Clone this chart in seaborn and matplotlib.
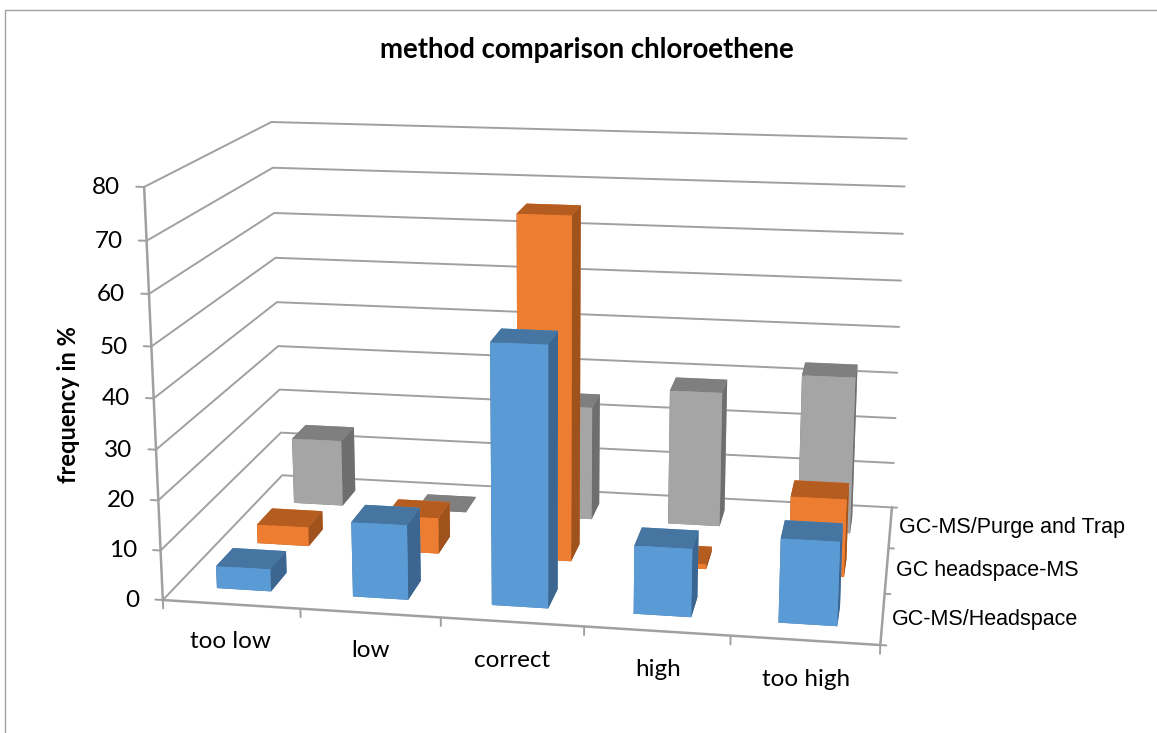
import matplotlib
matplotlib.use("Agg")
import matplotlib.pyplot as plt
from matplotlib.lines import Line2D
from mpl_toolkits.mplot3d import proj3d
import seaborn as sns

# Values
categories = ["too low", "low", "correct", "high", "too high"]
series_names = ["GC-MS/Headspace", "GC headspace-MS", "GC-MS/Purge and Trap"]
headspace = [4.5, 15, 51.5, 13.5, 16.5]
headspace_ms = [4, 7.5, 70.5, 1, 16]
purge_trap = [14.5, 0, 24.5, 29, 33.5]
z_ticks = [0, 10, 20, 30, 40, 50, 60, 70, 80]

sns.set_theme(style="white")
plt.rcParams["font.family"] = ["Lato", "DejaVu Sans"]

GRID = "#A0A0A0"
# front, top and side colours per series
front_colors = sns.color_palette(["#5B9BD5", "#ED7D31", "#A5A5A5"])
top_colors = sns.color_palette(["#4575A0", "#B55D21", "#7F7F7F"])
side_colors = sns.color_palette(["#3C6690", "#A0521D", "#6E6E6E"])

W_PX, H_PX = 1157, 733
S_PX = 1400


def grid_line(ax, xs, ys, zs, lw=1.4, color=GRID):
    ax.plot(xs, ys, zs, color=color, lw=lw, zorder=1, solid_capstyle="round")


def label(ax, x, y, z, text, **kwargs):
    # project first, so the text sits in plain 2D axes coordinates
    x2, y2, _ = proj3d.proj_transform(x, y, z, ax.get_proj())
    ax.text2D(x2, y2, text, transform=ax.transData, va="center", color="black", **kwargs)


def main():
    fig = plt.figure(figsize=(W_PX / 100, H_PX / 100), dpi=100, facecolor="white")
    # big square axes, the box only fills part of it
    x0 = 549 - 0.5135 * S_PX
    y0 = (H_PX - 360.5) - 0.5135 * S_PX
    ax = fig.add_axes([x0 / W_PX, y0 / H_PX, S_PX / W_PX, S_PX / H_PX], projection="3d")
    ax.computed_zorder = False
    ax.set_proj_type("persp", focal_length=0.30)
    ax.view_init(elev=14.5, azim=-80.2)

    n_cat = len(categories)
    n_ser = len(series_names)

    # back wall, left wall
    for z in z_ticks:
        grid_line(ax, [0, 0, n_cat], [0, n_ser, n_ser], [z, z, z])
        grid_line(ax, [0, -0.055], [0, 0], [z, z])
    grid_line(ax, [0, 0], [0, 0], [0, 80], lw=1.8)
    # floor front and right edges
    grid_line(ax, [0, n_cat, n_cat], [0, 0, n_ser], [0, 0, 0], lw=1.8)
    for i in range(n_cat + 1):
        grid_line(ax, [i, i], [0, 0], [0, -1.7])
    for s in range(n_ser + 1):
        grid_line(ax, [n_cat, n_cat + 0.04], [s, s], [0, 0])

    # bars, back row first
    rows = [headspace, headspace_ms, purge_trap]
    for s in range(n_ser - 1, -1, -1):
        for i, val in enumerate(rows[s]):
            faces = [top_colors[s], top_colors[s], front_colors[s],
                     front_colors[s], side_colors[s], side_colors[s]]
            ax.bar3d(i + 0.3, s + 0.3, 0, 0.4, 0.4, val, color=faces, shade=False,
                     linewidth=0, zorder=10 + (n_ser - s) * 10 + i)

    ax.set_xlim(0, n_cat, view_margin=0)
    ax.set_ylim(0, n_ser, view_margin=0)
    ax.set_zlim(0, 80, view_margin=0)
    ax.set_box_aspect((3.075, 1.83, 1.81), zoom=0.618)
    ax.set_axis_off()

    for z in z_ticks:
        label(ax, -0.17, 0, z - 0.3, str(z), ha="right", fontsize=17.5)
    for i, cat in enumerate(categories):
        label(ax, i + 0.52, -0.1, -6.5, cat, ha="center", fontsize=17.5)
    for s, name in enumerate(series_names):
        label(ax, n_cat + 0.065, s + 0.5, 0, name, ha="left", fontsize=15.5, family="Liberation Sans")

    fig.text(586.5 / W_PX, 1 - 50 / H_PX, "method comparison chloroethene", ha="center", va="center",
             fontsize=19.9, fontweight="bold", color="black")
    fig.text(69 / W_PX, 1 - 405 / H_PX, "frequency in %", rotation=90, ha="center", va="center",
             fontsize=17, fontweight="bold", color="black")

    # chart frame, cut by the image on the right and at the bottom
    fig.add_artist(Line2D([5 / W_PX, 5 / W_PX, 1], [0, 1 - 10 / H_PX, 1 - 10 / H_PX],
                          color=GRID, lw=1.0, transform=fig.transFigure))

    fig.savefig("out.png", dpi=100)


if __name__ == "__main__":
    main()
